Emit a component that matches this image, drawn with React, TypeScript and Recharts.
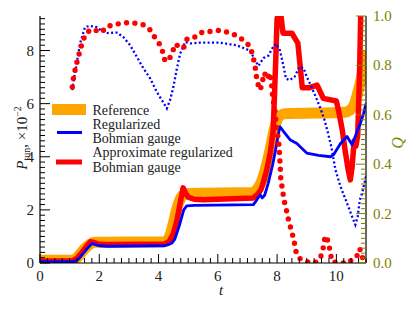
import { ComposedChart, Line, XAxis, YAxis } from 'recharts';

// reference probability (orange band)
const refT = [0, 1.1, 1.25, 1.4, 1.55, 1.7, 1.85, 2.0, 4.2, 4.35, 4.5, 4.62, 4.75, 4.88, 5.0, 7.15, 7.3, 7.45, 7.6, 7.75, 7.9, 8.0, 8.1, 8.25, 10.3, 10.45, 10.6, 10.72, 10.85, 10.95, 11];
const refP = [0.1, 0.1, 0.2, 0.4, 0.58, 0.72, 0.78, 0.78, 0.8, 0.95, 1.5, 2.05, 2.45, 2.6, 2.62, 2.65, 2.75, 3.0, 3.5, 4.2, 5.0, 5.4, 5.55, 5.62, 5.68, 5.75, 5.95, 6.4, 7.0, 7.6, 8.0];

// regularized Bohmian gauge, P_tun (blue solid)
const regT = [0, 1.15, 1.3, 1.45, 1.6, 1.75, 1.85, 2.0, 2.3, 4.2, 4.35, 4.45, 4.55, 4.7, 4.85, 4.95, 5.2, 7.2, 7.3, 7.43, 7.5, 7.58, 7.7, 7.85, 7.95, 8.05, 8.1, 8.22, 8.45, 8.67, 8.78, 9.0, 9.4, 9.8, 9.9, 10.14, 10.36, 10.53, 10.7, 10.81, 10.92, 11];
const regP = [0.05, 0.05, 0.15, 0.35, 0.55, 0.73, 0.7, 0.65, 0.63, 0.65, 0.7, 0.75, 0.9, 1.4, 2.0, 2.15, 2.17, 2.2, 2.35, 2.57, 2.45, 2.55, 3.0, 3.7, 4.26, 4.9, 5.13, 4.95, 4.63, 4.5, 4.38, 4.14, 4.05, 4.0, 4.07, 4.5, 4.76, 4.45, 4.95, 5.26, 5.64, 6.0];

// approximate regularized Bohmian gauge, P_tun (red solid)
const apxT = [0, 1.1, 1.25, 1.4, 1.55, 1.7, 1.8, 1.95, 2.2, 4.2, 4.35, 4.5, 4.62, 4.72, 4.83, 4.9, 5.0, 5.2, 5.5, 7.2, 7.35, 7.45, 7.55, 7.65, 7.77, 7.87, 7.95, 8.0, 8.1, 8.2, 8.5, 8.7, 8.78, 8.85, 9.1, 9.35, 9.56, 10.0, 10.1, 10.2, 10.3, 10.4, 10.47, 10.53, 10.6, 10.66, 10.72, 10.78, 10.83, 11];
const apxP = [0.08, 0.08, 0.18, 0.38, 0.6, 0.8, 0.78, 0.72, 0.7, 0.72, 0.8, 1.1, 1.6, 2.2, 2.83, 2.65, 2.48, 2.4, 2.38, 2.45, 2.6, 2.75, 3.1, 3.5, 4.15, 5.0, 7.5, 9.2, 9.6, 8.65, 8.65, 8.28, 7.4, 6.6, 6.6, 6.7, 6.2, 6.1, 5.6, 5.0, 4.2, 3.5, 3.13, 3.6, 4.6, 4.4, 4.8, 7.0, 9.8, 10.0];

// Q, regularized (blue dotted)
const qRegT = [1.09, 1.15, 1.22, 1.35, 1.52, 1.69, 1.91, 2.08, 2.25, 2.59, 2.81, 3.04, 3.27, 3.49, 3.72, 3.94, 4.11, 4.28, 4.39, 4.5, 4.62, 4.73, 4.9, 5.07, 5.4, 6.08, 6.64, 7.09, 7.26, 7.37, 7.54, 7.71, 7.83, 7.97, 8.1, 8.22, 8.3, 8.42, 8.59, 8.75, 8.9, 9.0, 9.18, 9.35, 9.48, 9.6, 9.72, 9.83, 9.97, 10.14, 10.36, 10.53, 10.64, 10.72, 10.79, 10.87, 10.92, 11];
const qReg = [0.70, 0.75, 0.794, 0.889, 0.955, 0.96, 0.955, 0.94, 0.931, 0.933, 0.915, 0.882, 0.834, 0.788, 0.747, 0.693, 0.66, 0.626, 0.66, 0.713, 0.788, 0.848, 0.895, 0.889, 0.892, 0.892, 0.881, 0.86, 0.82, 0.798, 0.83, 0.84, 0.868, 0.888, 0.86, 0.794, 0.747, 0.74, 0.754, 0.794, 0.788, 0.754, 0.707, 0.66, 0.62, 0.579, 0.525, 0.471, 0.377, 0.309, 0.242, 0.188, 0.155, 0.188, 0.256, 0.283, 0.31, 0.35];

// Q, approximate (red dotted)
const qApxT = [1.09, 1.13, 1.19, 1.26, 1.34, 1.42, 1.53, 1.71, 1.93, 2.08, 2.25, 2.54, 2.85, 3.15, 3.46, 3.7, 3.85, 4.03, 4.15, 4.22, 4.36, 4.47, 4.57, 4.69, 4.84, 4.95, 5.09, 5.26, 5.47, 5.78, 6.08, 6.37, 6.66, 6.88, 7.08, 7.17, 7.24, 7.29, 7.32, 7.43, 7.5, 7.56, 7.62, 7.68, 7.74, 7.8, 7.86, 7.94, 7.97, 8.03, 8.07, 8.1, 8.13, 8.19, 8.22, 8.29, 8.35, 8.42, 8.5, 8.58, 8.61, 8.74, 8.99, 9.27, 9.46, 9.55, 9.6, 9.65, 9.74, 9.8, 9.85, 10.1, 10.42, 10.59, 10.7, 10.79, 10.87, 10.92];
const qApx = [0.713, 0.75, 0.785, 0.82, 0.855, 0.89, 0.925, 0.946, 0.94, 0.934, 0.957, 0.966, 0.973, 0.972, 0.966, 0.946, 0.918, 0.887, 0.852, 0.817, 0.825, 0.855, 0.887, 0.875, 0.869, 0.905, 0.914, 0.915, 0.934, 0.938, 0.942, 0.933, 0.919, 0.9, 0.878, 0.844, 0.808, 0.77, 0.736, 0.70, 0.73, 0.77, 0.76, 0.745, 0.77, 0.74, 0.666, 0.606, 0.552, 0.511, 0.47, 0.4, 0.33, 0.296, 0.259, 0.229, 0.192, 0.159, 0.124, 0.087, 0.054, 0.02, 0.005, 0, 0.02, 0.057, 0.094, 0.11, 0.081, 0.04, 0.006, 0, 0, 0.024, 0.03, 0.058, 0.027, 0.006];

const xMajor = [0, 2, 4, 6, 8, 10];
const pMajor = [0, 2, 4, 6, 8];
const qMajor = [0, 0.2, 0.4, 0.6, 0.8, 1.0];

const steps = (from: number, to: number, step: number) => {
  const out: number[] = [];
  for (let i = 0; from + i * step <= to + 1e-9; i++) out.push(+(from + i * step).toFixed(4));
  return out;
};
const xTicks = steps(0, 11, 0.25);
const pTicks = steps(0, 9.2, 0.2);
const qTicks = steps(0, 1, 0.02);

const isMajor = (v: number, list: number[]) => list.some(m => Math.abs(m - v) < 1e-6);

const zip = (ts: number[], vs: number[], key: string) => ts.map((t, i) => ({ t, [key]: vs[i] }));

const FONT = "'Liberation Serif', 'DejaVu Serif', serif";
const OLIVE = '#808000';
const serif = { fontFamily: FONT };

const XTick = ({ x, y, payload }: any) => {
  const major = isMajor(payload.value, xMajor);
  return (
    <g>
      <line x1={x} x2={x} y1={y} y2={y - (major ? 9 : 5)} stroke="#000" strokeWidth={1} />
      {major && (
        <text x={x} y={y + 18} textAnchor="middle" fontSize={15} style={serif} fill="#222">{payload.value}</text>
      )}
    </g>
  );
};

const PTick = ({ x, y, payload }: any) => {
  const major = isMajor(payload.value, pMajor);
  return (
    <g>
      <line x1={x} x2={x + (major ? 10 : 5)} y1={y} y2={y} stroke="#000" strokeWidth={1} />
      {major && (
        <text x={x - 6} y={y + 5} textAnchor="end" fontSize={15} style={serif} fill="#222">{payload.value}</text>
      )}
    </g>
  );
};

const QTick = ({ x, y, payload }: any) => {
  const major = isMajor(payload.value, qMajor);
  return (
    <g>
      <line x1={x} x2={x - (major ? 10 : 5)} y1={y} y2={y} stroke={OLIVE} strokeWidth={1} />
      {major && (
        <text x={x + 7} y={y + 5} textAnchor="start" fontSize={15} style={serif} fill={OLIVE}>{payload.value.toFixed(1)}</text>
      )}
    </g>
  );
};

export default function App() {
  return (
    <div style={{ position: 'absolute', left: 0, top: 0, width: 415, height: 309, background: '#fff' }}>
      <ComposedChart width={415} height={309} margin={{ top: 16, right: 9, bottom: 16, left: 10 }}>
        <XAxis dataKey="t" type="number" domain={[0, 11]} allowDataOverflow ticks={xTicks} interval={0}
          tickSize={0} tickMargin={0} tick={<XTick />} tickLine={false} height={30}
          axisLine={{ stroke: '#000', strokeWidth: 1.2 }} />
        <XAxis xAxisId="top" orientation="top" dataKey="t" type="number" domain={[0, 11]} height={0}
          tick={false} tickLine={false} axisLine={{ stroke: '#000', strokeWidth: 1.2 }} />
        <YAxis yAxisId="p" type="number" domain={[0, 9.3]} allowDataOverflow ticks={pTicks} interval={0}
          tickSize={0} tickMargin={0} tick={<PTick />} tickLine={false} width={30}
          axisLine={{ stroke: '#000', strokeWidth: 1.2 }} />
        <YAxis yAxisId="q" orientation="right" type="number" domain={[0, 1]} allowDataOverflow ticks={qTicks} interval={0}
          tickSize={0} tickMargin={0} tick={<QTick />} tickLine={false} width={40}
          axisLine={{ stroke: '#000', strokeWidth: 1.2 }} />

        <Line data={zip(refT, refP, 'v')} dataKey="v" yAxisId="p" type="monotone" stroke="#FFA500" strokeWidth={11}
          dot={false} isAnimationActive={false} />
        <Line data={zip(apxT, apxP, 'v')} dataKey="v" yAxisId="p" type="linear" stroke="#FF0000" strokeWidth={5.5}
          strokeLinejoin="round" dot={false} isAnimationActive={false} />
        <Line data={zip(regT, regP, 'v')} dataKey="v" yAxisId="p" type="linear" stroke="#0000FF" strokeWidth={2.8}
          strokeLinejoin="round" dot={false} isAnimationActive={false} />
        <Line data={zip(qRegT, qReg, 'v')} dataKey="v" yAxisId="q" type="linear" stroke="#0000FF" strokeWidth={2.3}
          strokeDasharray="2 2.4" dot={false} isAnimationActive={false} />
        <Line data={zip(qApxT, qApx, 'v')} dataKey="v" yAxisId="q" type="linear" stroke="#FF0000" strokeWidth={5.4}
          strokeDasharray="0 8.4" strokeLinecap="round" dot={false} isAnimationActive={false} />
      </ComposedChart>

      <svg width={415} height={309} style={{ position: 'absolute', left: 0, top: 0, pointerEvents: 'none' }}>
        <g style={serif} fontSize={14} fill="#222">
          <rect x={52} y={104} width={34} height={11} fill="#FFA500" />
          <text x={92.5} y={114.5}>Reference</text>
          <text x={92.5} y={128.8}>Regularized</text>
          <line x1={57} x2={82} y1={132.5} y2={132.5} stroke="#0000FF" strokeWidth={3} />
          <text x={92.5} y={143.1}>Bohmian gauge</text>
          <text x={92.5} y={157.4}>Approximate regularized</text>
          <line x1={56} x2={82} y1={162} y2={162} stroke="#FF0000" strokeWidth={5} />
          <text x={92.5} y={171.7}>Bohmian gauge</text>

          <text transform="translate(27,138) rotate(-90)" textAnchor="middle" fontSize={15}>
            <tspan fontStyle="italic">P</tspan>
            <tspan fontSize={10} dy={3}>tun</tspan>
            <tspan dy={-3}>, ×10</tspan>
            <tspan fontSize={10} dy={-6}>−2</tspan>
          </text>
          <text x={221} y={295} textAnchor="middle" fontStyle="italic" fontSize={15}>t</text>
          <text transform="translate(403,143) rotate(-90)" textAnchor="middle" fontStyle="italic" fontSize={16} fill={OLIVE}>Q</text>
        </g>
      </svg>
    </div>
  );
}
